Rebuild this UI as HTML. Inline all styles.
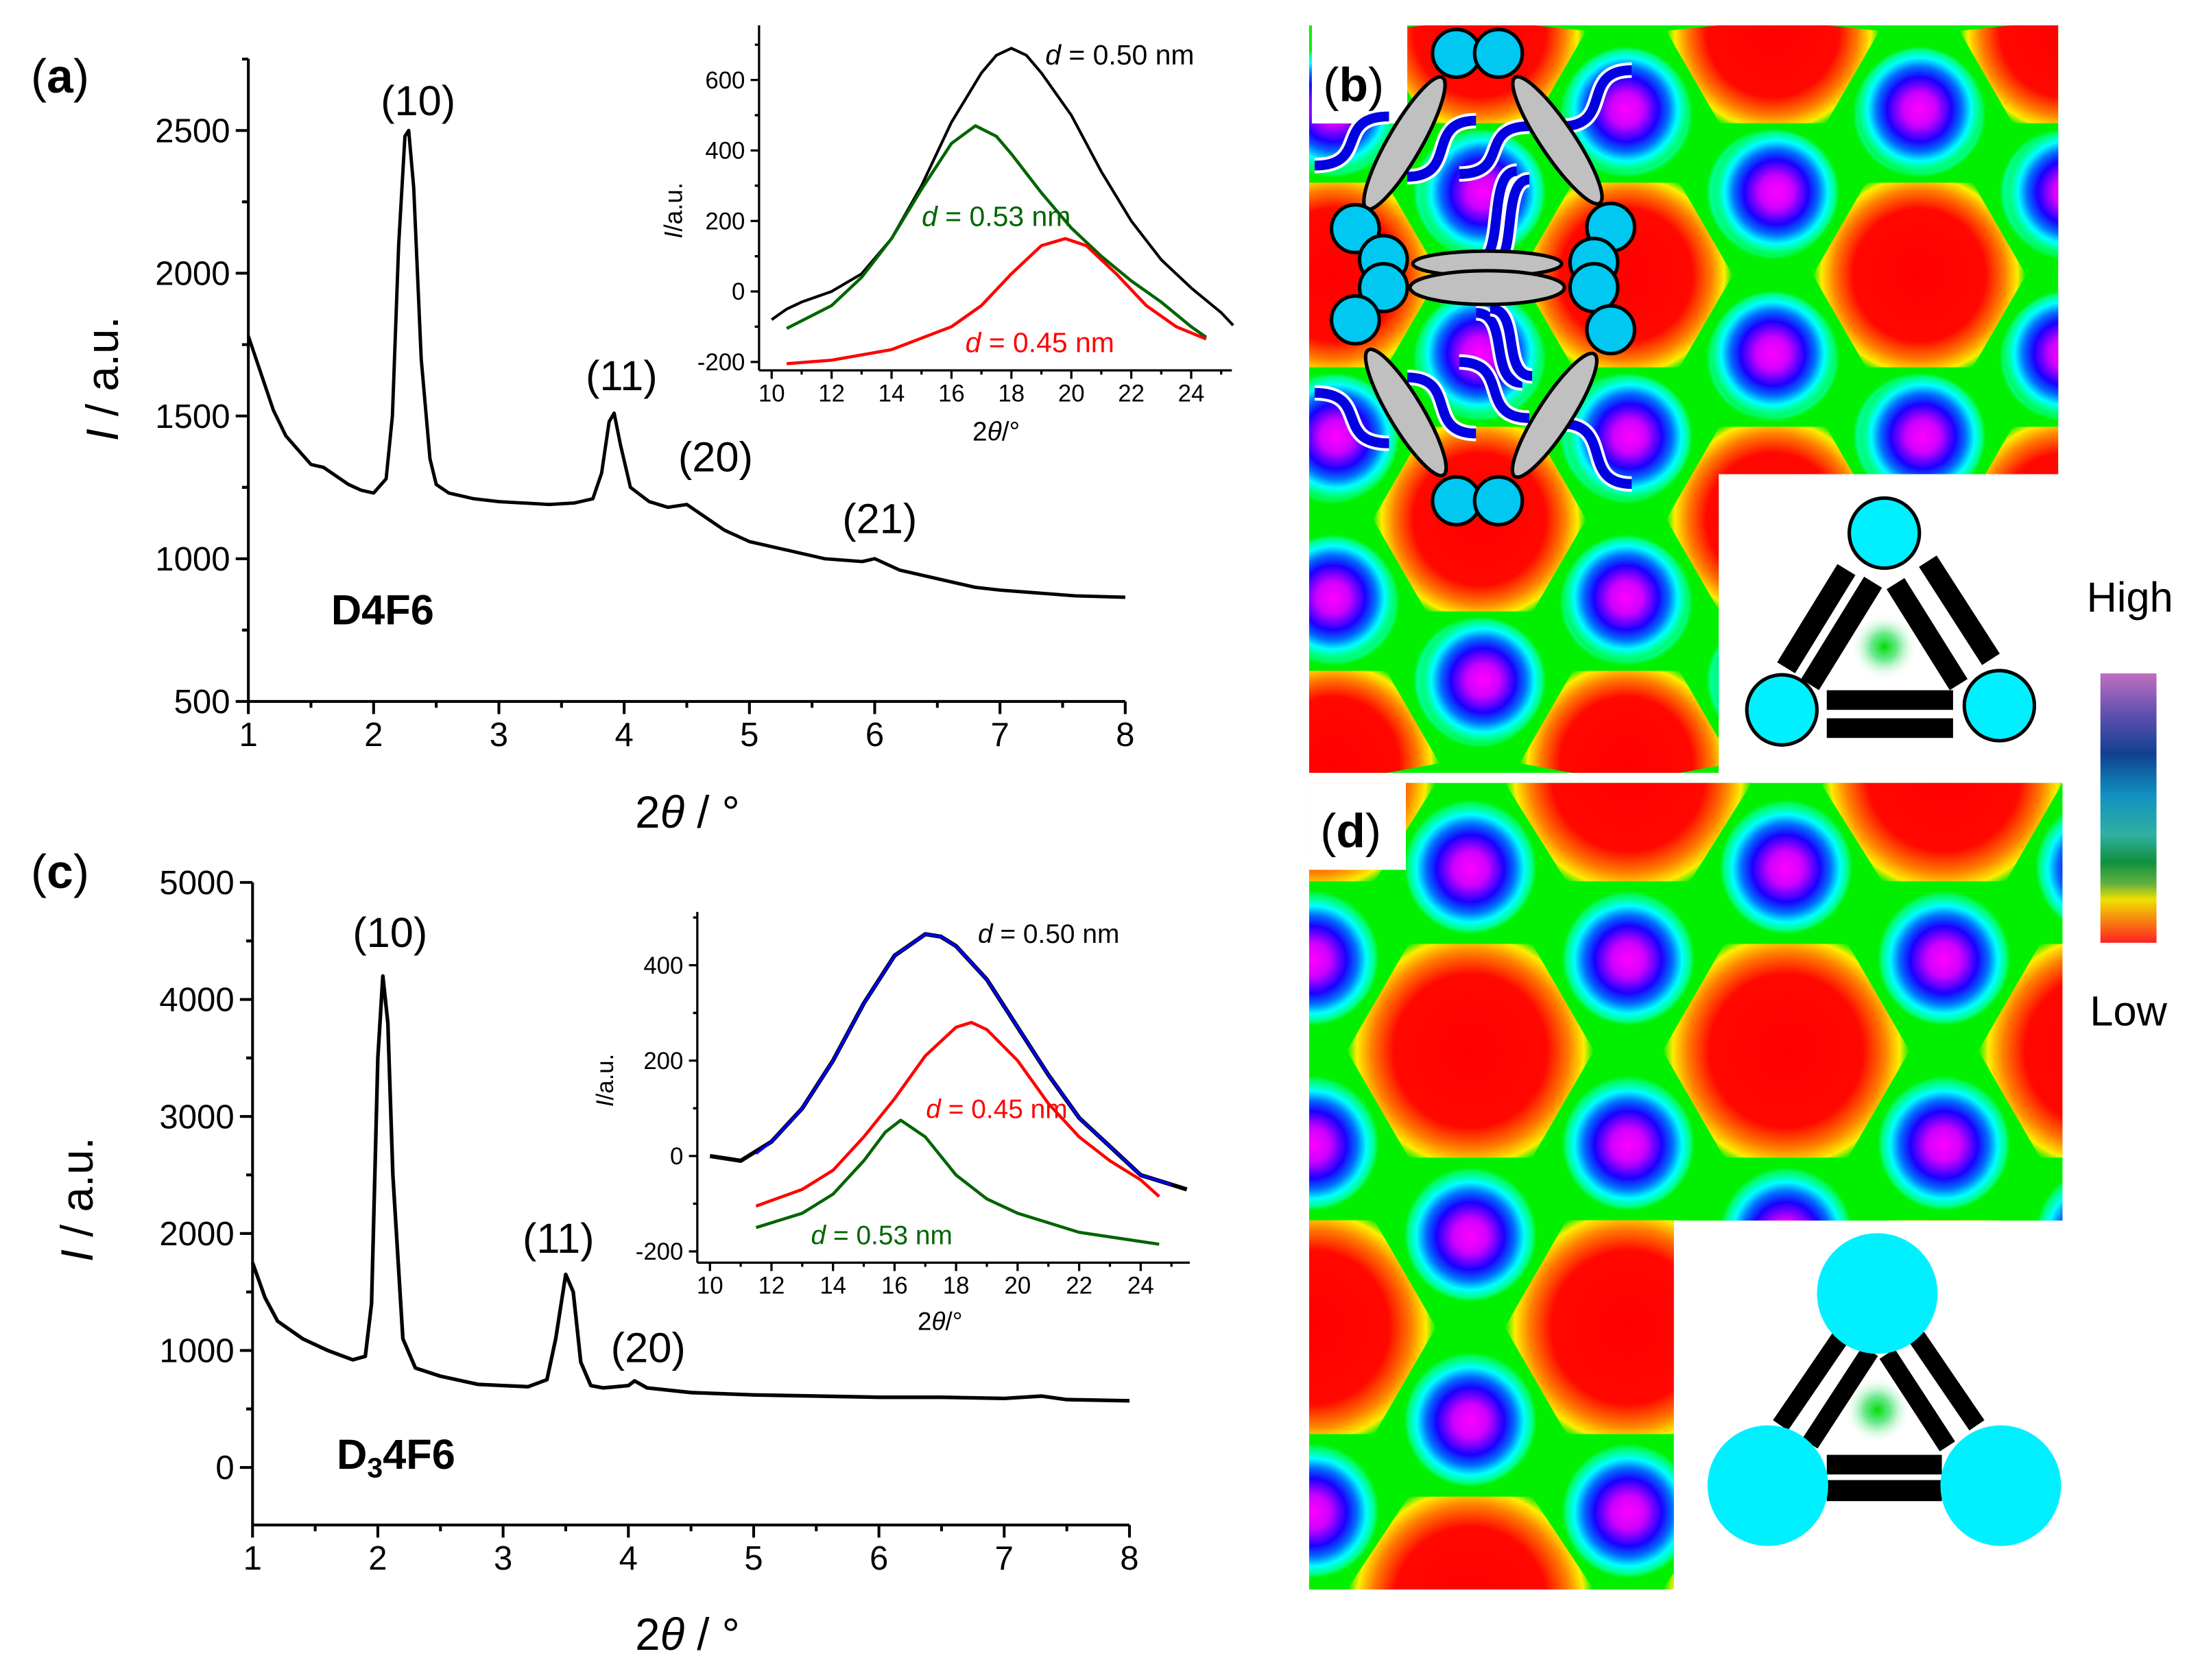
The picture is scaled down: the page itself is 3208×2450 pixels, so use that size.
<!DOCTYPE html>
<html><head><meta charset="utf-8"><style>
html,body{margin:0;padding:0;background:#fff;width:3208px;height:2450px;overflow:hidden;}
svg{display:block;}
</style></head><body>
<svg id="fig" xmlns="http://www.w3.org/2000/svg" viewBox="0 0 1568 1197.5" width="3208" height="2450" preserveAspectRatio="none" font-family="Liberation Sans, sans-serif">
<defs id="defs">
<radialGradient id="gGlow" cx="0.5" cy="0.5" r="0.5">
<stop offset="0" stop-color="#00dd00"/><stop offset="0.4" stop-color="#30e060" stop-opacity="0.7"/>
<stop offset="1" stop-color="#ffffff" stop-opacity="0"/></radialGradient>
<linearGradient id="gBar" x1="0" y1="0" x2="0" y2="1">
<stop offset="0" stop-color="#c070c0"/><stop offset="0.15" stop-color="#6050b0"/>
<stop offset="0.3" stop-color="#104090"/><stop offset="0.45" stop-color="#1090c0"/>
<stop offset="0.6" stop-color="#30b0a0"/><stop offset="0.7" stop-color="#109040"/>
<stop offset="0.78" stop-color="#60b040"/><stop offset="0.84" stop-color="#f0e000"/>
<stop offset="1" stop-color="#ff2020"/></linearGradient>
<clipPath id="clipB"><path d="M933 18 H1467 V338 H1225 V551 H933 Z"/></clipPath>
<clipPath id="clipD"><path d="M933 558 H1470 V870 H1193 V1133 H933 Z"/></clipPath>
</defs>
<g id="charts"></g>
<g id="maps"></g>
</svg>
<script>
// ---------- chart data ----------
const aX=[1,1.1,1.2,1.3,1.4,1.5,1.6,1.7,1.8,1.9,2.0,2.1,2.15,2.2,2.25,2.28,2.32,2.38,2.45,2.5,2.6,2.8,3.0,3.2,3.4,3.6,3.75,3.82,3.88,3.92,3.97,4.05,4.2,4.35,4.5,4.6,4.8,5.0,5.3,5.6,5.9,6.0,6.2,6.5,6.8,7.0,7.3,7.6,8.0];
const aY=[1780,1650,1520,1430,1380,1330,1320,1290,1260,1240,1230,1280,1500,2100,2480,2500,2300,1700,1350,1260,1230,1210,1200,1195,1190,1195,1210,1300,1480,1510,1400,1250,1200,1180,1190,1160,1100,1060,1030,1000,990,1000,960,930,900,890,880,870,865];
const aYTicks=[500,1000,1500,2000,2500];
const aXTicks=[1,2,3,4,5,6,7,8];

const aiTotX=[10,10.5,11,12,13,14,15,16,17,17.5,18,18.5,19,20,21,22,23,24,25,25.4];
const aiTotY=[-80,-50,-30,0,50,150,300,480,620,670,690,670,620,500,340,200,90,10,-60,-96];
const aiGrnX=[10.5,12,13,14,15,16,16.8,17.5,18,19,20,21,22,23,24,24.5];
const aiGrnY=[-105,-40,40,150,290,420,470,440,390,280,180,100,30,-30,-100,-130];
const aiRedX=[10.5,12,14,16,17,18,19,19.8,20.5,21.5,22.5,23.5,24.5];
const aiRedY=[-205,-195,-165,-100,-40,50,130,150,130,50,-40,-100,-135];
const aiYTicks=[-200,0,200,400,600];
const aiXTicks=[10,12,14,16,18,20,22,24];

const cX=[1,1.1,1.2,1.4,1.6,1.8,1.9,1.95,2.0,2.04,2.08,2.12,2.2,2.3,2.5,2.8,3.0,3.2,3.35,3.42,3.5,3.56,3.62,3.7,3.8,4.0,4.05,4.15,4.5,5,5.5,6,6.5,7,7.3,7.5,8];
const cY=[1750,1450,1250,1100,1000,920,950,1400,3500,4200,3800,2500,1100,850,780,710,700,690,750,1100,1650,1500,900,700,680,700,740,680,640,620,610,600,600,590,610,580,570];
const cYTicks=[0,1000,2000,3000,4000,5000];
const cXTicks=[1,2,3,4,5,6,7,8];

const ciTotX=[10,10.5,11,12,13,14,15,16,17,17.5,18,19,20,21,22,23,24,25,25.5];
const ciTotY=[0,-5,-10,30,100,200,320,420,465,460,440,370,270,170,80,20,-40,-60,-70];
const ciBluX=[11.5,12,13,14,15,16,17,17.5,18,19,20,21,22,23,24,25];
const ciBluY=[5,30,100,200,320,420,465,460,440,370,270,170,80,20,-40,-60];
const ciRedX=[11.5,13,14,15,16,17,18,18.5,19,20,21,22,23,24,24.6];
const ciRedY=[-105,-70,-30,40,120,210,270,280,265,200,110,40,-10,-50,-85];
const ciGrnX=[11.5,13,14,15,15.7,16.2,17,18,19,20,22,24.6];
const ciGrnY=[-150,-120,-80,-10,50,75,40,-40,-90,-120,-160,-185];
const ciYTicks=[-200,0,200,400];
const ciXTicks=[10,12,14,16,18,20,22,24];

const NS='http://www.w3.org/2000/svg';
function mk(tag,attrs,parent){const e=document.createElementNS(NS,tag);for(const k in attrs)e.setAttribute(k,attrs[k]);if(parent)parent.appendChild(e);return e;}
function scale(d0,d1,p0,p1){return v=>p0+(v-d0)*(p1-p0)/(d1-d0);}
const charts=document.getElementById('charts');
const defs=document.getElementById('defs');

function drawAxes(g,sx,sy,o){
  let e=mk('line',{x1:o.xl,y1:o.yb,x2:o.xr,y2:o.yb,stroke:'#000','stroke-width':o.lw},g);
  
  
  e=mk('line',{x1:o.xl,y1:o.yb,x2:o.xl,y2:o.yt,stroke:'#000','stroke-width':o.lw},g);
  
  
  o.xTicks.forEach(v=>{
    const x=sx(v);
    const t=mk('line',{x1:x,y1:o.yb,x2:x,y2:o.yb+o.tk,stroke:'#000','stroke-width':o.lw},g);
    
    
    const mx=sx(v+o.xMinor);
    if(mx<=o.xr){
      const m=mk('line',{x1:mx,y1:o.yb,x2:mx,y2:o.yb+o.tk/2,stroke:'#000','stroke-width':o.lw},g);
      
      
    }
    const l=mk('text',{x:x,y:o.yb+o.tk+o.fs*0.95,'font-size':o.fs,'text-anchor':'middle'},g);
    l.textContent=String(v);
    
    
  });
  o.yTicks.forEach(v=>{
    const y=sy(v);
    const t=mk('line',{x1:o.xl,y1:y,x2:o.xl-o.tk,y2:y,stroke:'#000','stroke-width':o.lw},g);
    
    
    [v-o.yMinor,v+o.yMinor].forEach(mv=>{const my=sy(mv);if(my<=o.yb+0.5&&my>=o.yt-0.5){
      const m=mk('line',{x1:o.xl,y1:my,x2:o.xl-o.tk/2,y2:my,stroke:'#000','stroke-width':o.lw},g);
      
      }});
    const l=mk('text',{x:o.xl-o.tk-4,y:y+o.fs*0.35,'font-size':o.fs,'text-anchor':'end'},g);
    l.textContent=String(v);
    
    
  });
}
function drawLine(g,sx,sy,xs,ys,color,w,name){
  const d=xs.map((x,i)=>(i?'L':'M')+sx(x).toFixed(2)+' '+sy(ys[i]).toFixed(2)).join(' ');
  const p=mk('path',{d:d,fill:'none',stroke:color,'stroke-width':w,'stroke-linejoin':'round'},g);
  
  
}
function txt(g,x,y,size,html,name,extra){
  const t=mk('text',Object.assign({x:x,y:y,'font-size':size},extra||{}),g);
  t.innerHTML=html;
  
  
  return t;
}

// ---------- panel a ----------
const gA=mk('g',{},charts);


{
  const sx=scale(1,8,177,802), sy=scale(500,2500,500,93);
  drawAxes(gA,sx,sy,{xl:177,xr:802,yb:500,yt:42,lw:2,tk:9,fs:24,xTicks:aXTicks,yTicks:aYTicks,xMinor:0.5,yMinor:250});
  drawLine(gA,sx,sy,aX,aY,'#000',2.4,'xrd-curve-d4f6');
  txt(gA,22,66,34,'(<tspan font-weight="bold">a</tspan>)','panel-a-label');
  txt(gA,298,82,30,'(10)','peak-label-10',{'text-anchor':'middle'});
  txt(gA,443,278,30,'(11)','peak-label-11',{'text-anchor':'middle'});
  txt(gA,510,336,30,'(20)','peak-label-20',{'text-anchor':'middle'});
  txt(gA,627,380,30,'(21)','peak-label-21',{'text-anchor':'middle'});
  txt(gA,236,445,30,'D4F6','sample-label-d4f6',{'font-weight':'bold'});
  txt(gA,490,590,32,'2<tspan font-style="italic">θ</tspan> / °','x-axis-title',{'text-anchor':'middle'});
  txt(gA,0,0,32,'<tspan font-style="italic">I</tspan> / a.u.','y-axis-title',{'text-anchor':'middle',transform:'translate(84,270) rotate(-90)'});
}
// ---------- inset a ----------
const gAi=mk('g',{},charts);


{
  const sx=scale(10,24,550,849), sy=scale(-200,600,258,57);
  drawAxes(gAi,sx,sy,{xl:541,xr:878,yb:264,yt:18,lw:1.6,tk:6,fs:17,xTicks:aiXTicks,yTicks:aiYTicks,xMinor:1,yMinor:100});
  drawLine(gAi,sx,sy,aiTotX,aiTotY,'#000',2,'inset-total-curve');
  drawLine(gAi,sx,sy,aiGrnX,aiGrnY,'#006400',2.2,'inset-fit-053');
  drawLine(gAi,sx,sy,aiRedX,aiRedY,'#ff0000',2.2,'inset-fit-045');
  txt(gAi,745,46,20,'<tspan font-style="italic">d</tspan> = 0.50 nm','label-d050');
  txt(gAi,657,161,20,'<tspan font-style="italic">d</tspan> = 0.53 nm','label-d053',{fill:'#006400'});
  txt(gAi,688,251,20,'<tspan font-style="italic">d</tspan> = 0.45 nm','label-d045',{fill:'#ff0000'});
  txt(gAi,710,314,19,'2<tspan font-style="italic">θ</tspan>/°','inset-x-title',{'text-anchor':'middle'});
  txt(gAi,0,0,18,'<tspan font-style="italic">I</tspan>/a.u.','inset-y-title',{'text-anchor':'middle',transform:'translate(486,150) rotate(-90)'});
}
// ---------- panel c ----------
const gC=mk('g',{},charts);


{
  const sx=scale(1,8,180,805), sy=scale(0,5000,1046,629);
  drawAxes(gC,sx,sy,{xl:180,xr:805,yb:1087,yt:629,lw:2,tk:9,fs:24,xTicks:cXTicks,yTicks:cYTicks,xMinor:0.5,yMinor:500});
  drawLine(gC,sx,sy,cX,cY,'#000',2.6,'xrd-curve-d34f6');
  txt(gC,22,633,34,'(<tspan font-weight="bold">c</tspan>)','panel-c-label');
  txt(gC,278,675,30,'(10)','peak-label-10',{'text-anchor':'middle'});
  txt(gC,398,893,30,'(11)','peak-label-11',{'text-anchor':'middle'});
  txt(gC,462,971,30,'(20)','peak-label-20',{'text-anchor':'middle'});
  txt(gC,240,1047,30,'D<tspan font-size="20" dy="6">3</tspan><tspan dy="-6">4F6</tspan>','sample-label-d34f6',{'font-weight':'bold'});
  txt(gC,490,1176,32,'2<tspan font-style="italic">θ</tspan> / °','x-axis-title',{'text-anchor':'middle'});
  txt(gC,0,0,32,'<tspan font-style="italic">I</tspan> / a.u.','y-axis-title',{'text-anchor':'middle',transform:'translate(66,855) rotate(-90)'});
}
// ---------- inset c ----------
const gCi=mk('g',{},charts);


{
  const sx=scale(10,24,506,813), sy=scale(-200,400,892,688);
  drawAxes(gCi,sx,sy,{xl:497,xr:848,yb:900,yt:650,lw:1.6,tk:6,fs:17,xTicks:ciXTicks,yTicks:ciYTicks,xMinor:1,yMinor:100});
  drawLine(gCi,sx,sy,ciTotX,ciTotY,'#000',3,'inset-total-curve');
  drawLine(gCi,sx,sy,ciBluX,ciBluY,'#0000ff',1.8,'inset-fit-sum');
  drawLine(gCi,sx,sy,ciRedX,ciRedY,'#ff0000',2.2,'inset-fit-045');
  drawLine(gCi,sx,sy,ciGrnX,ciGrnY,'#006400',2.2,'inset-fit-053');
  txt(gCi,697,672,19,'<tspan font-style="italic">d</tspan> = 0.50 nm','label-d050');
  txt(gCi,660,797,19,'<tspan font-style="italic">d</tspan> = 0.45 nm','label-d045',{fill:'#ff0000'});
  txt(gCi,578,887,19,'<tspan font-style="italic">d</tspan> = 0.53 nm','label-d053',{fill:'#006400'});
  txt(gCi,670,948,18,'2<tspan font-style="italic">θ</tspan>/°','inset-x-title',{'text-anchor':'middle'});
  txt(gCi,0,0,17,'<tspan font-style="italic">I</tspan>/a.u.','inset-y-title',{'text-anchor':'middle',transform:'translate(437,770) rotate(-90)'});
}

// ---------- density maps ----------
const maps=document.getElementById('maps');
let gid=0;
function redGrad(cx,cy,r){
  const id='gr'+(gid++);
  const g=mk('radialGradient',{id:id,gradientUnits:'userSpaceOnUse',cx:cx,cy:cy,r:r},defs);
  [['0','#ff0000',1],['0.62','#ff0800',1],['0.8','#ff8000',1],['0.92','#ffee00',1],['1','#00f000',1]].forEach(s=>mk('stop',{offset:s[0],'stop-color':s[1]},g));
  return id;
}
function spotGrad(cx,cy,r){
  const id='gs'+(gid++);
  const g=mk('radialGradient',{id:id,gradientUnits:'userSpaceOnUse',cx:cx,cy:cy,r:r},defs);
  [['0','#ff00ff',1],['0.25','#d000ff',1],['0.5','#1a00ff',1],['0.66','#0070ff',1],['0.8','#00ffff',1],['0.92','#00ff80',1],['1','#00f000',0]].forEach(s=>mk('stop',{offset:s[0],'stop-color':s[1],'stop-opacity':s[2]},g));
  return id;
}
const clamp=(v,a,b)=>Math.max(a,Math.min(b,v));
function drawMap(name,clip,bb,x0,y0,dx,dy,rows,cols,oddShift,vOff,hOff,hR,sR){
  const g=mk('g',{'clip-path':'url(#'+clip+')'},maps);
  
  
  mk('rect',{x:bb[0],y:bb[1],width:bb[2]-bb[0],height:bb[3]-bb[1],fill:'#00f000'},g);
  const centers=[];
  for(let r=rows[0];r<=rows[1];r++){for(let c=cols[0];c<=cols[1];c++){
    centers.push([x0+c*dx+((Math.abs(r)%2)?oddShift:0),y0+r*dy]);}}
  centers.forEach(([cx,cy])=>{
    if(cx+hR<bb[0]||cx-hR>bb[2]||cy+hR<bb[1]||cy-hR>bb[3])return;
    let p=[];for(let i=0;i<6;i++){const a=Math.PI/3*i;
      p.push(clamp(cx+hR*Math.cos(a),bb[0],bb[2]).toFixed(1)+','+clamp(cy+hR*Math.sin(a),bb[1],bb[3]).toFixed(1));}
    const h=mk('polygon',{points:p.join(' '),fill:'url(#'+redGrad(cx,cy,hR)+')'},g);
    
    
  });
  const seen={};
  centers.forEach(([cx,cy])=>{
    [[0,-vOff*2],[0,vOff*2],[hOff,-vOff],[hOff,vOff],[-hOff,-vOff],[-hOff,vOff]].forEach(([ox,oy])=>{
      const sx=cx+ox, sy=cy+oy, k=Math.round(sx)+'_'+Math.round(sy);
      if(seen[k])return;seen[k]=1;
      if(sx+sR<bb[0]||sx-sR>bb[2]||sy+sR<bb[1]||sy-sR>bb[3])return;
      const x1=clamp(sx-sR,bb[0],bb[2]),x2=clamp(sx+sR,bb[0],bb[2]),y1=clamp(sy-sR,bb[1],bb[3]),y2=clamp(sy+sR,bb[1],bb[3]);
      const s=mk('rect',{x:x1,y:y1,width:x2-x1,height:y2-y1,fill:'url(#'+spotGrad(sx,sy,sR)+')'},g);
      
      
    });
  });
  return g;
}
drawMap('panel-b-density-map','clipB',[933,18,1467,551],1368,196,209,174,[-1,3],[-3,1],-104.5,59,102,76,46);
drawMap('panel-d-density-map','clipD',[933,558,1470,1133],1048,749,225,197,[-1,2],[-1,2],112.5,65,112.5,88,48);

function box(x,y,w,h,label,name){
  const r=mk('rect',{x:x,y:y,width:w,height:h,fill:'#fff'},maps);
  
  
  txt(maps,x+8,y+h-16,34,'(<tspan font-weight="bold">'+label+'</tspan>)',name);
}
box(935,18,68,70,'b','panel-b-label');
box(933,558,69,62,'d','panel-d-label');

// molecule overlay in b
const mol=mk('g',{},maps);


function wave(x1,y1,x2,y2){const dx=x2-x1;return `M${x1} ${y1} C${x1+0.75*dx} ${y1},${x1+0.25*dx} ${y2},${x2} ${y2}`;}
const chains=[[937,118,990,83],[1003,126,1052,86],[1040,124,1090,90],[1113,90,1163,50],[1052,187,1081,122],[1062,190,1090,128],[1052,223,1085,273],[1062,220,1092,268],[937,280,990,316],[1003,269,1052,309],[1040,258,1090,298],[1113,302,1163,345]];
chains.forEach(c=>{
  mk('path',{d:wave(...c),fill:'none',stroke:'#fff','stroke-width':11},mol);
  const p=mk('path',{d:wave(...c),fill:'none',stroke:'#0000e0','stroke-width':7},mol);
  
  
});
const ells=[[1001,102,54,12,120],[1110,100,54,12,56],[1002,294,52,12,59],[1108,296,52,12,123],[1060,188,53,9,0],[1060,205,55,12,0]];
ells.forEach(([cx,cy,rx,ry,a])=>{
  const e=mk('ellipse',{cx:cx,cy:cy,rx:rx,ry:ry,fill:'#c0c0c0',stroke:'#000','stroke-width':2.5,transform:`rotate(${a} ${cx} ${cy})`},mol);
  
  
});
const balls=[[1038,38],[1068,38],[1038,357],[1068,357],[966,163],[986,185],[986,205],[966,228],[1148,162],[1136,187],[1136,205],[1148,235]];
balls.forEach(([cx,cy])=>{
  const c=mk('circle',{cx:cx,cy:cy,r:17,fill:'#00c8f0',stroke:'#000','stroke-width':2.5},mol);
  
  
});

// triangle schematics
function tri(name,glow,bars,bottom,circles,cr,stroke){
  const g=mk('g',{},maps);
  
  
  mk('circle',{cx:glow[0],cy:glow[1],r:24,fill:'url(#gGlow)'},g);
  bars.forEach(b=>{const l=mk('line',{x1:b[0],y1:b[1],x2:b[2],y2:b[3],stroke:'#000','stroke-width':b[4]},g);
    
    });
  bottom.forEach(b=>{const r=mk('rect',{x:b[0],y:b[1],width:b[2],height:b[3],fill:'#000'},g);
    
    });
  circles.forEach(c=>{const e=mk('circle',{cx:c[0],cy:c[1],r:cr,fill:'#00f0ff',stroke:stroke?'#000':'none','stroke-width':2.5},g);
    
    });
}
tri('triangle-schematic-b',[1343,461],
  [[1273,476,1316,406,15],[1290,488,1335,415,15],[1419,470,1374,400,15],[1396,488,1351,416,15]],
  [[1302,492,90,14],[1302,512,90,14]],
  [[1343,380],[1270,506],[1425,503]],25,true);
tri('triangle-schematic-d',[1338,1005],
  [[1269,1016,1312,953,13],[1290,1029,1333,963,13],[1409,1016,1366,953,13],[1388,1031,1345,965,13]],
  [[1302,1037,82,14],[1302,1055,82,15]],
  [[1338,922],[1260,1059],[1426,1059]],43,false);

// colorbar
{
  const r=mk('rect',{x:1497,y:480,width:40,height:192,fill:'url(#gBar)'},maps);
  
  
  txt(maps,1518,436,30,'High','colorbar-high-label',{'text-anchor':'middle'});
  txt(maps,1517,731,30,'Low','colorbar-low-label',{'text-anchor':'middle'});
}
</script>
</body></html>
